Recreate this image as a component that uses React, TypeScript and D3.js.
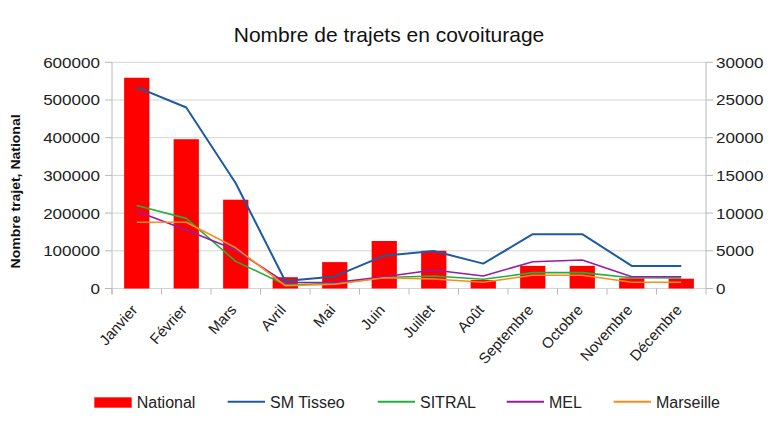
import React from "react";
import * as d3 from "d3";

const months = ["Janvier", "Février", "Mars", "Avril", "Mai", "Juin", "Juillet", "Août", "Septembre", "Octobre", "Novembre", "Décembre"];
const national = [559000, 396000, 235500, 30000, 70000, 126000, 100000, 22500, 60000, 60000, 27000, 26000];
const smTisseo = [26700, 24000, 13950, 1000, 1600, 4350, 4970, 3300, 7200, 7200, 3000, 3000];
const sitral = [11000, 9300, 3600, 500, 650, 1450, 1660, 1220, 2100, 2100, 1430, 1400];
const mel = [10240, 7760, 5100, 820, 800, 1560, 2450, 1660, 3550, 3780, 1560, 1560];
const marseille = [8780, 8780, 5400, 370, 560, 1430, 1260, 820, 1750, 1750, 820, 820];
const leftTicks = [0, 100000, 200000, 300000, 400000, 500000, 600000];
const rightTicks = [0, 5000, 10000, 15000, 20000, 25000, 30000];

const lineSeries = [
  { name: "SM Tisseo", values: smTisseo, color: "#1f5aa0", width: 2 },
  { name: "SITRAL", values: sitral, color: "#22b03c", width: 1.6 },
  { name: "MEL", values: mel, color: "#9a1aa6", width: 1.6 },
  { name: "Marseille", values: marseille, color: "#ff8a1c", width: 1.6 },
];

export default function App() {
  const W = 774, H = 424;
  const left = 112, right = 706, top = 62.3, bottom = 288.5;
  const font = "'Liberation Sans', Arial, sans-serif";
  const x = d3.scaleBand<string>().domain(months).range([left, right]).paddingInner(0.49).paddingOuter(0.245);
  const xc = (m: string) => (x(m) as number) + x.bandwidth() / 2;
  const band = (right - left) / months.length;
  const yL = d3.scaleLinear().domain([0, 600000]).range([bottom, top]);
  const yR = d3.scaleLinear().domain([0, 30000]).range([bottom, top]);
  const line = (vals: number[]) =>
    d3.line<number>().x((_, i) => xc(months[i])).y((v) => yR(v))(vals) as string;

  const legend = [
    { name: "National", type: "rect", color: "#ff0000", x: 136.7 },
    { name: "SM Tisseo", type: "line", color: lineSeries[0].color, x: 270 },
    { name: "SITRAL", type: "line", color: lineSeries[1].color, x: 420 },
    { name: "MEL", type: "line", color: lineSeries[2].color, x: 549 },
    { name: "Marseille", type: "line", color: lineSeries[3].color, x: 656 },
  ];

  return (
    <svg width={W} height={H} style={{ position: "absolute", left: 0, top: 0, background: "#fff" }} fontFamily={font}>
      <rect x={0} y={0} width={W} height={H} fill="#fff" />
      <text x={389} y={42} textAnchor="middle" fontSize={21} fill="#111">Nombre de trajets en covoiturage</text>
      {leftTicks.map((t) => (
        <line key={"g" + t} x1={left} x2={right} y1={yL(t)} y2={yL(t)} stroke="#d4d4d4" strokeWidth={1} />
      ))}
      <line x1={left} x2={left} y1={top} y2={bottom + 6} stroke="#b8b8b8" />
      <line x1={right} x2={right} y1={top} y2={bottom + 6} stroke="#b8b8b8" />
      {leftTicks.map((t) => (
        <g key={"l" + t}>
          <line x1={left - 7} x2={left} y1={yL(t)} y2={yL(t)} stroke="#b8b8b8" />
          <text transform={`translate(100,${yL(t)}) scale(1.1,1)`} dy="0.35em" textAnchor="end" fontSize={15.5} fill="#222">{t}</text>
        </g>
      ))}
      {rightTicks.map((t) => (
        <g key={"r" + t}>
          <line x1={right} x2={right + 7} y1={yR(t)} y2={yR(t)} stroke="#b8b8b8" />
          <text transform={`translate(716,${yR(t)}) scale(1.1,1)`} dy="0.35em" textAnchor="start" fontSize={15.5} fill="#222">{t}</text>
        </g>
      ))}
      {months.map((m, i) => (
        <line key={"xt" + m} x1={left + i * band} x2={left + i * band} y1={bottom} y2={bottom + 6} stroke="#b8b8b8" />
      ))}
      <text transform={`translate(19.5,${(top + bottom) / 2 + 16}) rotate(-90) scale(1.12,1)`} textAnchor="middle" fontSize={12.5} fontWeight="bold" fill="#111">Nombre trajet, National</text>
      {months.map((m, i) => (
        <rect key={"b" + m} x={x(m)} y={yL(national[i])} width={x.bandwidth()} height={bottom - yL(national[i])} fill="#ff0000" />
      ))}
      {lineSeries.map((s) => (
        <path key={s.name} d={line(s.values)} fill="none" stroke={s.color} strokeWidth={s.width} strokeLinejoin="round" />
      ))}
      {months.map((m) => (
        <text key={"xl" + m} transform={`translate(${xc(m) + 1.5},${bottom + 22}) rotate(-48)`} textAnchor="end" fontSize={15} fill="#222">{m}</text>
      ))}
      {legend.map((l) => (
        <g key={"lg" + l.name}>
          {l.type === "rect" ? (
            <rect x={l.x - 42.4} y={397.3} width={37.4} height={10.4} fill={l.color} />
          ) : (
            <line x1={l.x - 42.3} x2={l.x - 5} y1={401.7} y2={401.7} stroke={l.color} strokeWidth={2} />
          )}
          <text x={l.x} y={407.5} fontSize={16} fill="#222">{l.name}</text>
        </g>
      ))}
    </svg>
  );
}
